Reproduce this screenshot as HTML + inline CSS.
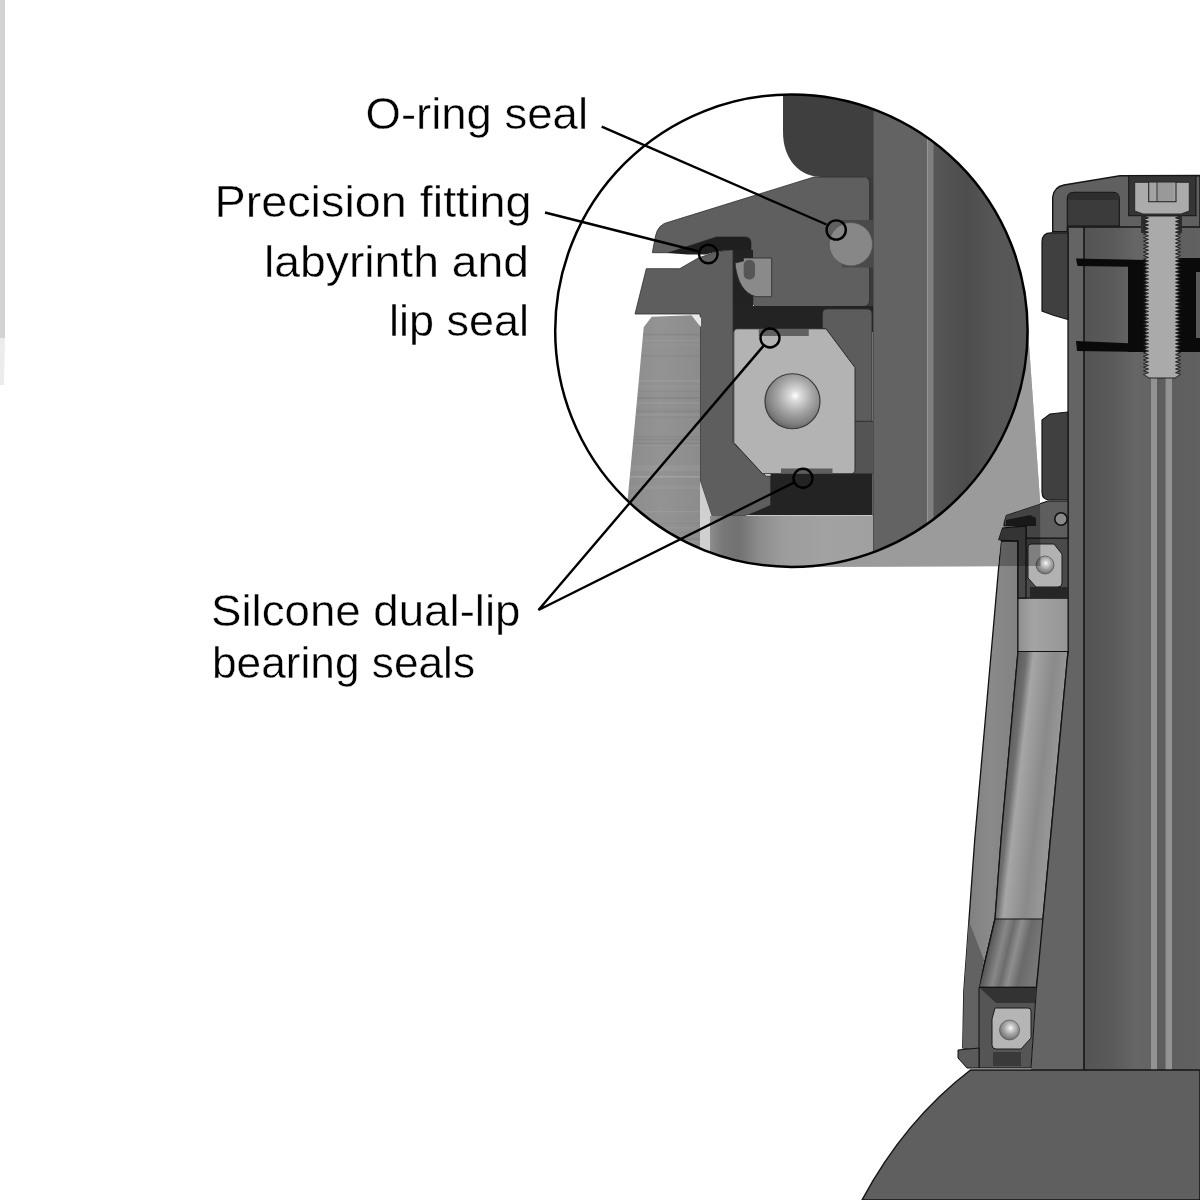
<!DOCTYPE html>
<html><head><meta charset="utf-8">
<style>
html,body{margin:0;padding:0;background:#fff;width:1200px;height:1200px;overflow:hidden}
svg{display:block}
text{font-family:"Liberation Sans",sans-serif;font-size:44.5px;fill:#000;stroke:#fff;stroke-width:0.4px}
</style></head><body>
<svg width="1200" height="1200" viewBox="0 0 1200 1200">
<defs>
<clipPath id="cc"><circle cx="791.4" cy="330.7" r="236.2"/></clipPath>
<radialGradient id="ball" cx="0.55" cy="0.4" r="0.62">
<stop offset="0" stop-color="#ffffff"/><stop offset="0.15" stop-color="#dcdcdc"/><stop offset="0.5" stop-color="#a8a8a8"/><stop offset="0.85" stop-color="#7c7c7c"/><stop offset="1" stop-color="#5e5e5e"/>
</radialGradient>
<linearGradient id="fork" x1="0" x2="1" y1="0" y2="0">
<stop offset="0" stop-color="#8a8a8a"/><stop offset="0.5" stop-color="#939393"/><stop offset="1" stop-color="#8c8c8c"/>
</linearGradient>
<linearGradient id="race" x1="0" x2="1" y1="0" y2="0">
<stop offset="0" stop-color="#8e8e8e"/><stop offset="0.08" stop-color="#777"/><stop offset="0.18" stop-color="#727272"/><stop offset="0.3" stop-color="#8c8c8c"/><stop offset="0.45" stop-color="#9c9c9c"/><stop offset="0.7" stop-color="#a2a2a2"/><stop offset="1" stop-color="#a0a0a0"/>
</linearGradient>
<linearGradient id="steer" x1="0" x2="1" y1="0" y2="0">
<stop offset="0" stop-color="#575757"/><stop offset="0.3" stop-color="#4d4d4d"/><stop offset="0.55" stop-color="#565656"/><stop offset="1" stop-color="#5a5a5a"/>
</linearGradient>
<linearGradient id="steer2" x1="0" x2="1" y1="0" y2="0">
<stop offset="0" stop-color="#545454"/><stop offset="0.25" stop-color="#5a5a5a"/><stop offset="0.45" stop-color="#666"/><stop offset="0.56" stop-color="#646464"/><stop offset="0.62" stop-color="#5d5d5d"/><stop offset="1" stop-color="#616161"/>
</linearGradient>
<linearGradient id="itube" x1="0" x2="1" y1="0" y2="0">
<stop offset="0" stop-color="#8f8f8f"/><stop offset="0.3" stop-color="#a4a4a4"/><stop offset="1" stop-color="#959595"/>
</linearGradient>
<linearGradient id="itube2" gradientUnits="userSpaceOnUse" x1="1018" y1="0" x2="1068" y2="0" gradientTransform="translate(0,651) skewX(-6.6) translate(0,-651)">
<stop offset="0" stop-color="#5c5c5c"/><stop offset="0.18" stop-color="#6e6e6e"/><stop offset="0.32" stop-color="#a6a6a6"/><stop offset="0.5" stop-color="#9a9a9a"/><stop offset="0.75" stop-color="#8a8a8a"/><stop offset="1" stop-color="#969696"/>
</linearGradient>
<linearGradient id="shell" x1="0" x2="1" y1="0" y2="0">
<stop offset="0" stop-color="#7e7e7e"/><stop offset="0.5" stop-color="#8a8a8a"/><stop offset="1" stop-color="#828282"/>
</linearGradient>
<linearGradient id="itube3" gradientUnits="userSpaceOnUse" x1="995" y1="0" x2="1045" y2="0" gradientTransform="translate(0,919) skewX(-13) translate(0,-919)">
<stop offset="0" stop-color="#555"/><stop offset="0.25" stop-color="#888"/><stop offset="0.4" stop-color="#6c6c6c"/><stop offset="0.55" stop-color="#8e8e8e"/><stop offset="0.75" stop-color="#6a6a6a"/><stop offset="1" stop-color="#767676"/>
</linearGradient>
<clipPath id="forkclip"><path d="M643.7,327.3 L651.7,316.7 L691.7,315.3 L700,326 L700,580 L620,580 L637,400 Z"/></clipPath>
</defs>

<!-- left strip -->
<rect x="0" y="0" width="5" height="338" fill="#d3d3d3"/><path d="M0,338 L5,338 L4,385 L0,385 Z" fill="#ececec"/>

<!-- ===== right headset ===== -->
<g id="headset">
<!-- steerer -->
<rect x="1084" y="225" width="116" height="846" fill="url(#steer2)"/>
<rect x="1068" y="225" width="16" height="846" fill="#646464"/>
<line x1="1084" y1="225" x2="1084" y2="1071" stroke="#111" stroke-width="1.5"/>
<line x1="1068" y1="225" x2="1068" y2="652" stroke="#151515" stroke-width="1.3"/>
<rect x="1151" y="378" width="6" height="693" fill="#939393"/>
<rect x="1165.6" y="378" width="6.4" height="693" fill="#939393"/>
<!-- star nut -->
<path d="M1076,258.5 L1146,260 L1146,267 L1077.5,266 Z" fill="#0a0a0a"/>
<path d="M1076,341 L1146,344 L1146,352 L1077,351 Z" fill="#0a0a0a"/>
<rect x="1128" y="260" width="18" height="92" fill="#0a0a0a"/>
<rect x="1176" y="258" width="24" height="94" fill="#0a0a0a"/>
<rect x="1196" y="272" width="4" height="66" fill="#5b5b5b"/>
<!-- top cap -->
<path d="M1052.7,231.7 L1052.7,197 Q1054,187 1064,185 L1120,175.7 L1200,175.5 L1200,227 L1067.3,227 L1067.3,231.7 Z" fill="#606060" stroke="#151515" stroke-width="1.4"/>
<path d="M1067.3,226 L1067.3,199 Q1067.3,192.3 1074,192.3 L1113,192.3 Q1119.3,192.3 1119.3,199 L1119.3,226 Z" fill="#3b3b3b" stroke="#151515" stroke-width="1.1"/>
<rect x="1068" y="193" width="51" height="7" rx="3" fill="#2e2e2e"/>
<rect x="1128.7" y="175.7" width="67.3" height="40" fill="#353535" stroke="#151515" stroke-width="1"/>
<rect x="1141" y="215" width="41" height="18" fill="#2e2e2e"/>
<!-- bolt -->
<path d="M1143.5,216.0 L1148.5,217.8 L1143.5,219.6 L1148.5,221.4 L1143.5,223.2 L1148.5,225.0 L1143.5,226.8 L1148.5,228.6 L1143.5,230.4 L1148.5,232.2 L1143.5,234.0 L1148.5,235.8 L1143.5,237.6 L1148.5,239.4 L1143.5,241.2 L1148.5,243.0 L1143.5,244.8 L1148.5,246.6 L1143.5,248.4 L1148.5,250.2 L1143.5,252.0 L1148.5,253.8 L1143.5,255.6 L1148.5,257.4 L1143.5,259.2 L1148.5,261.0 L1143.5,262.8 L1148.5,264.6 L1143.5,266.4 L1148.5,268.2 L1143.5,270.0 L1148.5,271.8 L1143.5,273.6 L1148.5,275.4 L1143.5,277.2 L1148.5,279.0 L1143.5,280.8 L1148.5,282.6 L1143.5,284.4 L1148.5,286.2 L1143.5,288.0 L1148.5,289.8 L1143.5,291.6 L1148.5,293.4 L1143.5,295.2 L1148.5,297.0 L1143.5,298.8 L1148.5,300.6 L1143.5,302.4 L1148.5,304.2 L1143.5,306.0 L1148.5,307.8 L1143.5,309.6 L1148.5,311.4 L1143.5,313.2 L1148.5,315.0 L1143.5,316.8 L1148.5,318.6 L1143.5,320.4 L1148.5,322.2 L1143.5,324.0 L1148.5,325.8 L1143.5,327.6 L1148.5,329.4 L1143.5,331.2 L1148.5,333.0 L1143.5,334.8 L1148.5,336.6 L1143.5,338.4 L1148.5,340.2 L1143.5,342.0 L1148.5,343.8 L1143.5,345.6 L1148.5,347.4 L1143.5,349.2 L1148.5,351.0 L1143.5,352.8 L1148.5,354.6 L1143.5,356.4 L1148.5,358.2 L1143.5,360.0 L1148.5,361.8 L1143.5,363.6 L1148.5,365.4 L1143.5,367.2 L1148.5,369.0 L1143.5,370.8 L1148.5,372.6 L1143.5,374.4 L1149,378 L1175,378 L1180.5,374.4 L1175.5,372.6 L1180.5,370.8 L1175.5,369.0 L1180.5,367.2 L1175.5,365.4 L1180.5,363.6 L1175.5,361.8 L1180.5,360.0 L1175.5,358.2 L1180.5,356.4 L1175.5,354.6 L1180.5,352.8 L1175.5,351.0 L1180.5,349.2 L1175.5,347.4 L1180.5,345.6 L1175.5,343.8 L1180.5,342.0 L1175.5,340.2 L1180.5,338.4 L1175.5,336.6 L1180.5,334.8 L1175.5,333.0 L1180.5,331.2 L1175.5,329.4 L1180.5,327.6 L1175.5,325.8 L1180.5,324.0 L1175.5,322.2 L1180.5,320.4 L1175.5,318.6 L1180.5,316.8 L1175.5,315.0 L1180.5,313.2 L1175.5,311.4 L1180.5,309.6 L1175.5,307.8 L1180.5,306.0 L1175.5,304.2 L1180.5,302.4 L1175.5,300.6 L1180.5,298.8 L1175.5,297.0 L1180.5,295.2 L1175.5,293.4 L1180.5,291.6 L1175.5,289.8 L1180.5,288.0 L1175.5,286.2 L1180.5,284.4 L1175.5,282.6 L1180.5,280.8 L1175.5,279.0 L1180.5,277.2 L1175.5,275.4 L1180.5,273.6 L1175.5,271.8 L1180.5,270.0 L1175.5,268.2 L1180.5,266.4 L1175.5,264.6 L1180.5,262.8 L1175.5,261.0 L1180.5,259.2 L1175.5,257.4 L1180.5,255.6 L1175.5,253.8 L1180.5,252.0 L1175.5,250.2 L1180.5,248.4 L1175.5,246.6 L1180.5,244.8 L1175.5,243.0 L1180.5,241.2 L1175.5,239.4 L1180.5,237.6 L1175.5,235.8 L1180.5,234.0 L1175.5,232.2 L1180.5,230.4 L1175.5,228.6 L1180.5,226.8 L1175.5,225.0 L1180.5,223.2 L1175.5,221.4 L1180.5,219.6 L1175.5,217.8 L1180.5,216.0 Z" fill="#aaaaaa" stroke="#1a1a1a" stroke-width="0.9"/>
<path d="M1134.7,182.3 L1189.3,182.3 L1189.3,211 L1181,214 L1143,214 L1134.7,211 Z" fill="#ababab" stroke="#222" stroke-width="0.9"/>
<rect x="1148.7" y="182" width="27.3" height="19.7" fill="#a3a3a3" stroke="#2a2a2a" stroke-width="1.1"/>
<rect x="1157.5" y="183" width="16" height="18" fill="#999"/>
<line x1="1157" y1="182" x2="1157" y2="202" stroke="#333" stroke-width="1"/>
<!-- spacers -->
<path d="M1068,232.8 L1051,232.8 Q1042,232.8 1042,242 L1042,311 L1054,315.5 L1068,319.5 Z" fill="#404040" stroke="#151515" stroke-width="1.2"/>
<path d="M1068,412 L1050,414 L1042,420 L1042,492 Q1042,500 1050,500 L1068,500 Z" fill="#404040" stroke="#151515" stroke-width="1.2"/>
<!-- head tube outer shell -->
<path d="M1001,541 L1018,541 L1018,651.5 L1001,840 L995,919 L979,987.4 L979,1050 L962.8,1048 L963.8,991.8 L974.7,840 Z" fill="url(#shell)" stroke="#111" stroke-width="1.3"/>
<!-- upper inner light -->
<rect x="1018" y="598" width="50" height="53.5" fill="url(#itube)" stroke="#111" stroke-width="1"/>
<!-- inner tube -->
<path d="M1018,651.5 L1068,651.5 L1036.5,987.4 L979,987.4 L995,919 L1001,840 Z" fill="url(#itube2)" stroke="#111" stroke-width="1.2"/>
<path d="M995,919 L1044.6,919 L1036.5,987.4 L979,987.4 Z" fill="url(#itube3)" stroke="#111" stroke-width="1.2"/>
<path d="M968.9,921 L984,960 L979,987.4 L979,1050 L962.8,1048 L963.8,991.8 Z" fill="#626262"/>
<!-- right of inner tube -->
<path d="M1068,651.5 L1068,1070 L1031,1070 L1036.5,987.4 Z" fill="#646464"/>
<line x1="1068" y1="651.5" x2="1036.5" y2="987.4" stroke="#111" stroke-width="1.3"/>
<!-- upper cup -->
<rect x="1018" y="538" width="50" height="60" fill="#4a4a4a" stroke="#111" stroke-width="1"/>
<path d="M1004,521 L1006,515 L1048,501 L1068,501 L1068,538 L1026,538 L1026,526 L1004,526 Z" fill="#5e5e5e" stroke="#111" stroke-width="1.2"/>
<path d="M1006,520 L1030,515 L1036,518 L1036,526 L1006,526 Z" fill="#222"/>
<path d="M998,540 L1002,528 L1026,526 L1026,598 L1018,598 L1018,541 Z" fill="#484848" stroke="#111" stroke-width="1.2"/>
<circle cx="1061" cy="519" r="6.2" fill="#8a8a8a" stroke="#111" stroke-width="1.6"/>
<path d="M1031,544 L1054,544 L1062,554 L1062,583 Q1062,587 1058,587 L1036,587 L1028,578 L1028,547 Q1028,544 1031,544 Z" fill="#b2b2b2" stroke="#1a1a1a" stroke-width="1"/>
<circle cx="1045" cy="565" r="9" fill="url(#ball)" stroke="#444" stroke-width="0.6"/>
<rect x="1030" y="587" width="38" height="11" fill="#262626"/>
<!-- lower cup -->
<path d="M979,987.4 L1036.5,987.4 L1031,1068 L979,1068 Z" fill="#555" stroke="#111" stroke-width="1"/>
<path d="M980,988 L1036,988 L1035,1003 L996,1003 Z" fill="#333"/>
<path d="M995,1008 L1028,1008 Q1031,1008 1031,1011 L1031,1038 L1021,1049 L996,1049 Q992,1049 992,1045 L992,1019 L995,1008 Z" fill="#b5b5b5" stroke="#1a1a1a" stroke-width="1"/>
<circle cx="1009.5" cy="1030" r="10" fill="url(#ball)" stroke="#444" stroke-width="0.6"/>
<path d="M958,1050 L979,1048 L979,1068 L967,1068 L958,1058 Z" fill="#5a5a5a" stroke="#111" stroke-width="1"/>
<rect x="993" y="1052" width="28" height="14" fill="#3a3a3a"/>
<!-- fork crown -->
<path d="M970.5,1070 L1200,1070 L1200,1200 L862,1200 Q905,1120 970.5,1070 Z" fill="#5f5f5f" stroke="#151515" stroke-width="1.5"/>
</g>

<!-- cone -->
<polygon points="1026,302 1040,500 1040.5,566 791,567" fill="#b6b6b6" style="mix-blend-mode:multiply"/>
<polygon points="1026,302 1040,500 1040,503.7 1006,515 1004,521 1002,528 998,540 1001,541 998.1,566.2 791,567" fill="#9b9b9b"/>

<!-- ===== magnified circle ===== -->
<g clip-path="url(#cc)">
<rect x="540" y="80" width="500" height="500" fill="#fff"/>
<!-- steerer -->
<rect x="933" y="80" width="110" height="500" fill="url(#steer)"/>
<rect x="873" y="80" width="54.5" height="500" fill="#636363"/>
<rect x="927.5" y="80" width="6" height="500" fill="#7f7f7f"/>
<line x1="873" y1="80" x2="873" y2="580" stroke="#3a3a3a" stroke-width="1"/>
<!-- top dark piece -->
<path d="M783,80 L783,132 C783,160 800,177 822,177 L873,177 L873,80 Z" fill="#3f3f3f"/>
<!-- dark gap right of cup -->
<rect x="866" y="177" width="7" height="132" fill="#3a3a3a"/>
<!-- cup main -->
<path d="M652.3,252.7 L655.5,236 Q658,224 669,222 L814,177 L864,177 Q869.5,177.5 869.5,183 L869.5,300 Q869.5,306.5 863,306.5 L757,306.5 Q753,306.5 753,302 L753,258 L751,258 L751,242 Q750,237 745,237 L716,237 L669,252.7 Z" fill="#5f5f5f" stroke="#2e2e2e" stroke-width="0.8"/>
<!-- o-ring groove + ring -->
<rect x="842" y="220" width="31" height="47.5" fill="#4a4a4a"/>
<circle cx="850.8" cy="244.2" r="21.7" fill="#878787" stroke="#555" stroke-width="0.8"/>
<!-- dark labyrinth seal -->
<path d="M667,253 L716,237 L745,237 Q751,237 751,242 L751,258 L733,258 L733,250 L718,251.3 L706,254.6 L688,254.4 Z" fill="#1f1f1f"/>
<!-- dark region around lip seal / above bearing -->
<rect x="733" y="250" width="20" height="82" fill="#222"/>
<rect x="733" y="306" width="140" height="26" fill="#232323"/>
<!-- lip seal -->
<path d="M735,263 L743.5,261 L743.5,258 L771.7,258 L771.7,296.7 L756,296.7 Q738,292 735,263 Z" fill="#8a8a8a" stroke="#2a2a2a" stroke-width="0.8"/>
<rect x="743.7" y="260" width="11.3" height="19.5" rx="5" fill="#565656"/>
<!-- right piece -->
<path d="M822.5,314 Q822.5,309 827,309 L867,309 Q872,309 872,314 L872,421.4 L853,421.4 L853,368 L825,328.3 L822.5,328.3 Z" fill="#5c5c5c" stroke="#2e2e2e" stroke-width="0.8"/>
<rect x="853" y="421.4" width="20" height="53" fill="#545454"/>
<line x1="855" y1="421.4" x2="873" y2="421.4" stroke="#333" stroke-width="1"/>
<!-- lower left gray piece -->
<path d="M635,314 L646.3,268.7 L679.7,268.7 L698.3,258 L718.3,251.3 L733,250 L733,443 L766,476 L770.5,476 L770.5,508 L745,515.5 L712,517 L700,481 L700,314 Z" fill="#5e5e5e" stroke="#2e2e2e" stroke-width="0.8"/>
<!-- fork piece -->
<path d="M643.7,327.3 L651.7,316.7 L691.7,315.3 L700,326 L700,580 L620,580 L637,400 Z" fill="url(#fork)"/>
<g clip-path="url(#forkclip)"><rect x="620" y="384.7" width="80" height="2" fill="#fff" opacity="0.04"/><rect x="620" y="439.0" width="80" height="1.5" fill="#000" opacity="0.05"/><rect x="620" y="389.7" width="80" height="2" fill="#fff" opacity="0.03"/><rect x="620" y="522.4" width="80" height="1" fill="#000" opacity="0.04"/><rect x="620" y="476.0" width="80" height="2" fill="#fff" opacity="0.06"/><rect x="620" y="333.5" width="80" height="2" fill="#000" opacity="0.06"/><rect x="620" y="339.8" width="80" height="1.5" fill="#fff" opacity="0.06"/><rect x="620" y="466.8" width="80" height="2" fill="#fff" opacity="0.06"/><rect x="620" y="511.3" width="80" height="1" fill="#fff" opacity="0.04"/><rect x="620" y="532.1" width="80" height="1.5" fill="#000" opacity="0.03"/><rect x="620" y="379.9" width="80" height="2" fill="#fff" opacity="0.07"/><rect x="620" y="526.7" width="80" height="2" fill="#fff" opacity="0.04"/><rect x="620" y="410.7" width="80" height="1.5" fill="#000" opacity="0.05"/><rect x="620" y="486.9" width="80" height="2" fill="#fff" opacity="0.06"/><rect x="620" y="484.4" width="80" height="2" fill="#fff" opacity="0.03"/><rect x="620" y="538.1" width="80" height="2" fill="#000" opacity="0.05"/><rect x="620" y="521.3" width="80" height="1" fill="#fff" opacity="0.05"/><rect x="620" y="344.6" width="80" height="1" fill="#fff" opacity="0.06"/><rect x="620" y="409.1" width="80" height="1" fill="#000" opacity="0.03"/><rect x="620" y="397.6" width="80" height="1" fill="#000" opacity="0.06"/><rect x="620" y="469.1" width="80" height="2" fill="#fff" opacity="0.06"/><rect x="620" y="464.9" width="80" height="2" fill="#fff" opacity="0.04"/><rect x="620" y="384.3" width="80" height="1" fill="#000" opacity="0.02"/><rect x="620" y="354.9" width="80" height="1.5" fill="#000" opacity="0.04"/><rect x="620" y="397.1" width="80" height="1.5" fill="#000" opacity="0.03"/><rect x="620" y="402.2" width="80" height="1.5" fill="#fff" opacity="0.07"/><rect x="620" y="435.9" width="80" height="2" fill="#000" opacity="0.04"/><rect x="620" y="553.8" width="80" height="1.5" fill="#fff" opacity="0.06"/><rect x="620" y="475.9" width="80" height="1.5" fill="#fff" opacity="0.06"/><rect x="620" y="554.9" width="80" height="1" fill="#fff" opacity="0.04"/><rect x="620" y="511.3" width="80" height="1" fill="#fff" opacity="0.07"/><rect x="620" y="416.6" width="80" height="1" fill="#000" opacity="0.05"/><rect x="620" y="475.7" width="80" height="2" fill="#fff" opacity="0.04"/><rect x="620" y="541.0" width="80" height="2" fill="#fff" opacity="0.05"/><rect x="620" y="442.6" width="80" height="1.5" fill="#000" opacity="0.05"/><rect x="620" y="387.8" width="80" height="1" fill="#fff" opacity="0.04"/><rect x="620" y="413.7" width="80" height="2" fill="#fff" opacity="0.04"/><rect x="620" y="390.8" width="80" height="1" fill="#000" opacity="0.06"/><rect x="620" y="553.4" width="80" height="1.5" fill="#000" opacity="0.05"/><rect x="620" y="445.0" width="80" height="1" fill="#fff" opacity="0.05"/></g>
<path d="M691.7,315.3 L698,315 L701,318 L701,327 Z" fill="#e8e8e8"/>
<path d="M700,481 L712,517 L712,580 L700,580 Z" fill="#d0d0d0"/>
<!-- dark bottom region -->
<path d="M770.5,473.5 L872.5,473.5 L872.5,515.3 L747,515.3 L770.5,505 Z" fill="#232323"/>
<!-- lower race light -->
<rect x="710" y="516" width="163" height="70" fill="url(#race)"/>
<!-- bearing -->
<path d="M737,328.75 L826,328.75 L855,367.5 L855,469.5 Q855,473.75 851,473.75 L762.5,473.75 L733.75,442.5 L733.75,332 Q733.75,328.75 737,328.75 Z" fill="#b3b3b3" stroke="#2a2a2a" stroke-width="1"/>
<rect x="758.75" y="329" width="50" height="7" fill="#606060"/>
<rect x="781" y="468.5" width="51.5" height="5" fill="#5e5e5e"/>
<circle cx="792.5" cy="401.25" r="27.5" fill="url(#ball)" stroke="#3a3a3a" stroke-width="1.2"/>
</g>
<circle cx="791.4" cy="330.7" r="236.2" fill="none" stroke="#000" stroke-width="2.5"/>

<!-- leaders -->
<g fill="none" stroke="#000" stroke-width="2.4">
<line x1="601.7" y1="126.7" x2="826.5" y2="224.5"/>
<circle cx="836.2" cy="230" r="9.6"/>
<line x1="545" y1="212.5" x2="699" y2="251.5"/>
<circle cx="708.3" cy="254" r="9.3"/>
<polyline points="763.9,345.4 538.5,610 793.9,482.6"/>
<circle cx="770" cy="338" r="9.5"/>
<circle cx="803" cy="478.3" r="9.5"/>
</g>

<!-- text -->
<text x="365.5" y="128.5" textLength="222.5" lengthAdjust="spacingAndGlyphs">O-ring seal</text>
<text x="214.5" y="217.2" textLength="317" lengthAdjust="spacingAndGlyphs">Precision fitting</text>
<text x="264" y="276.8" textLength="265" lengthAdjust="spacingAndGlyphs">labyrinth and</text>
<text x="389" y="335.7" textLength="140" lengthAdjust="spacingAndGlyphs">lip seal</text>
<text x="211" y="625.9" textLength="309.5" lengthAdjust="spacingAndGlyphs">Silcone dual-lip</text>
<text x="212" y="677.7" textLength="263" lengthAdjust="spacingAndGlyphs">bearing seals</text>
</svg>
</body></html>
